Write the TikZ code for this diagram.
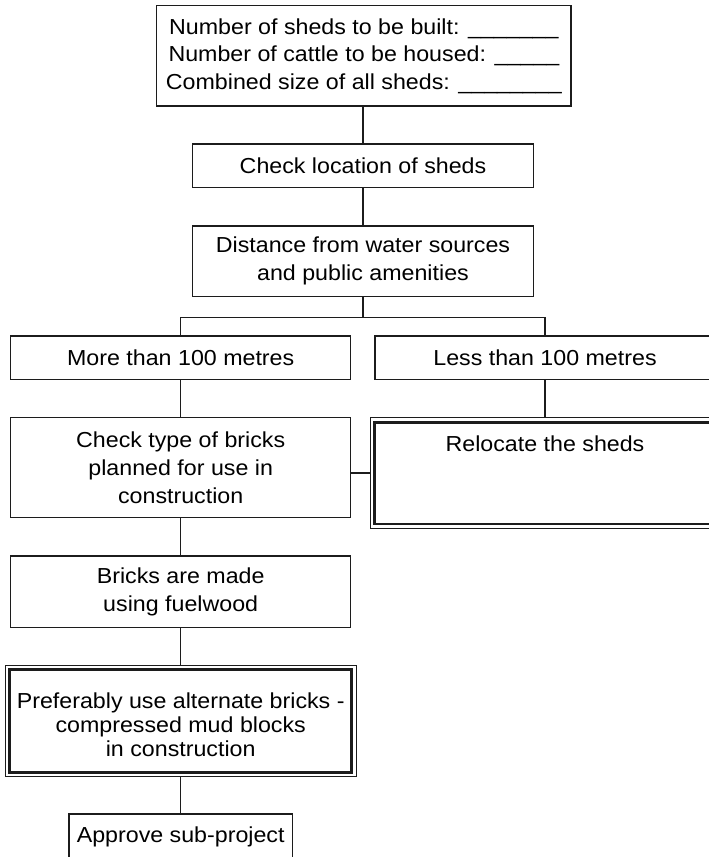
\documentclass[tikz,border=0pt]{standalone}
\usepackage{fontspec}
\setmainfont{Liberation Sans}[FakeStretch=1.07]
\definecolor{ink}{HTML}{1C1C1C}
\begin{document}
\begin{tikzpicture}[x=1pt,y=-1pt,
  every node/.style={font=\fontsize{21.7}{28}\selectfont, text=black},
  box/.style={draw=ink, line width=1.2pt, inner sep=0pt, align=center},
  outerbox/.style={draw=ink, line width=1pt, inner sep=0pt},
  frame/.style={draw=ink, line width=2.6pt},
  link/.style={draw=ink, line width=1.2pt}]
\useasboundingbox (0,0) rectangle (709,857);
\clip (0,0) rectangle (709,857);

% flow boxes
\node[box, minimum width=414.3pt, minimum height=100.3pt,
      font=\fontsize{21.7}{27.5}\selectfont] (info) at (363.9,55.9)
  {Number of sheds to be built: \_\_\_\_\_\_\_\\
   Number of cattle to be housed: \_\_\_\_\_\\
   Combined size of all sheds: \_\_\_\_\_\_\_\_};
\node[box, minimum width=340.6pt, minimum height=43.7pt] (loc) at (363,165.9)
  {Check location of sheds};
\node[box, minimum width=340.6pt, minimum height=70.7pt] (dist) at (363,261.3)
  {Distance from water sources\\and public amenities};
\node[box, minimum width=340pt, minimum height=43.3pt] (more) at (180.7,357.7)
  {More than 100 metres};
\node[box, minimum width=340pt, minimum height=43.3pt] (less) at (545,357.7)
  {Less than 100 metres};
\node[box, minimum width=340pt, minimum height=99.8pt] (chk) at (180.7,467.6)
  {Check type of bricks\\planned for use in\\construction};
\node[outerbox, minimum width=350pt, minimum height=110.6pt,
      label={[yshift=29pt]center:Relocate the sheds}] (reloc) at (545,473) {};
\node[box, minimum width=340pt, minimum height=71.7pt] (bricks) at (180.7,591.9)
  {Bricks are made\\using fuelwood};
\node[outerbox, minimum width=351pt, minimum height=111.7pt,
      label={[yshift=-4pt, align=center, font=\fontsize{21.7}{24.3}\selectfont]center:%
      Preferably use alternate bricks -\\compressed mud blocks\\in construction}]
  (pref) at (180.7,720.85) {};
\node[box, minimum width=223.4pt, minimum height=45.4pt] (appr) at (180.7,836.7)
  {Approve sub-project};

% heavy inner frames of the action boxes
\draw[frame] ([shift={(5pt,-5pt)}]reloc.north west) rectangle ([shift={(-5pt,5pt)}]reloc.south east);
\draw[frame] ([shift={(5pt,-5pt)}]pref.north west) rectangle ([shift={(-5pt,5pt)}]pref.south east);

% connectors
\draw[link] (loc.north |- info.south) -- (loc.north);
\draw[link] (loc.south) -- (dist.north);
\draw[link] (dist.south) -- ++(0,20) coordinate (fork);
\draw[link] (more.north) |- (fork) -| (less.north);
\draw[link] (more.south) -- (chk.north);
\draw[link] (less.south) -- (reloc.north);
\draw[link] (chk.east |- reloc.west) -- (reloc.west);
\draw[link] (chk.south) -- (bricks.north);
\draw[link] (bricks.south) -- (pref.north);
\draw[link] (pref.south) -- (appr.north);
\end{tikzpicture}
\end{document}
